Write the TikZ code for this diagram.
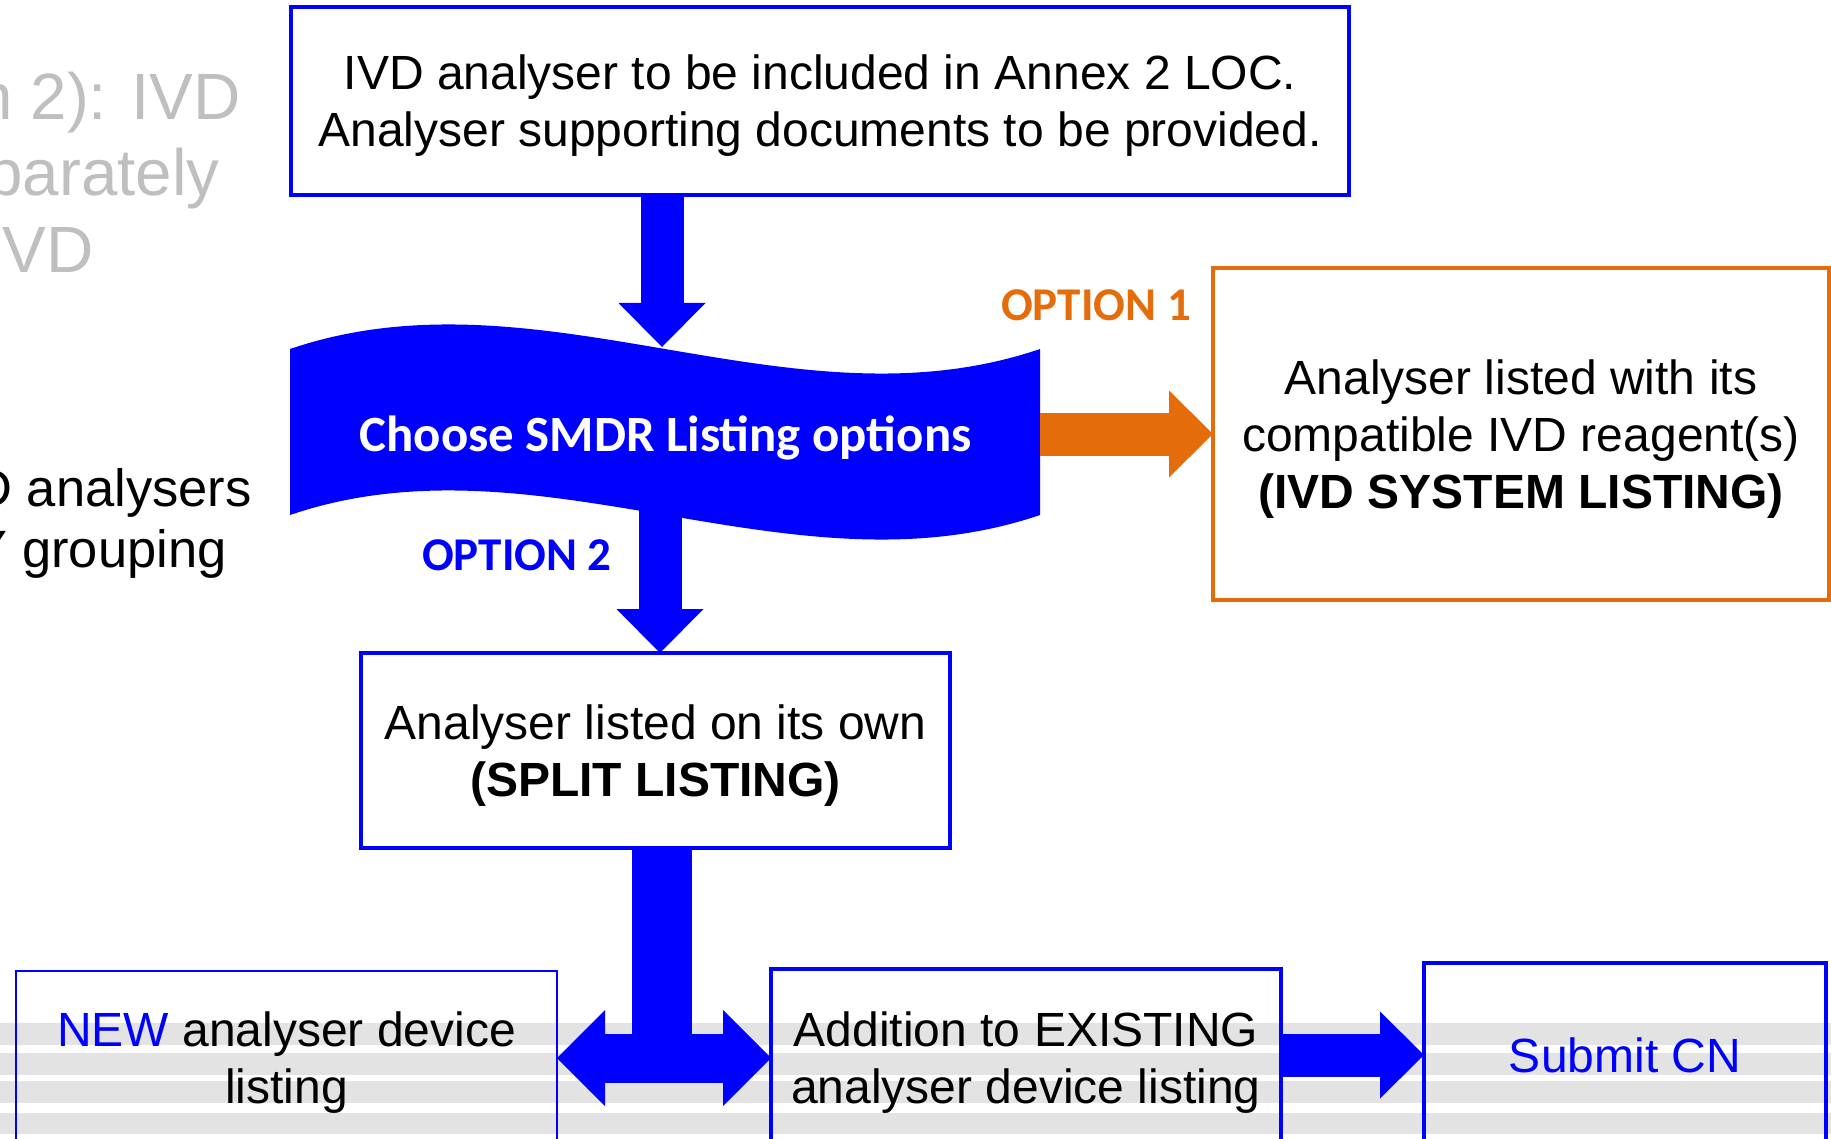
\documentclass[tikz,border=0pt]{standalone}
\usepackage{fontspec}
\setmainfont{Liberation Sans}
\newfontfamily\calibrifont{Carlito}
\usetikzlibrary{arrows.meta,calc}

\definecolor{pureblue}{RGB}{0,0,255}
\definecolor{optorange}{RGB}{228,108,10}
\definecolor{fadegrey}{RGB}{191,191,191}
\definecolor{stripegrey}{RGB}{227,227,227}

\newcommand\flowfont{\fontsize{24}{28.5}\selectfont}

\begin{document}
\begin{tikzpicture}[x=0.5pt,y=-0.5pt,
  flowbox/.style={draw=pureblue, line width=2pt, inner sep=0pt, outer sep=0pt,
                  align=center, font=\flowfont, text depth=-1pt},
  blockarrow/.style={color=pureblue, line width=21.5pt,
                     -{Triangle[length=22pt,width=43.5pt,line width=0pt]}},
  twowayarrow/.style={color=pureblue, line width=24.5pt,
                      {Triangle[length=24pt,width=48pt,line width=0pt]}-{Triangle[length=24pt,width=48pt,line width=0pt]}},
  optlabel/.style={font=\calibrifont\bfseries\fontsize{23.5}{28}\selectfont, inner sep=0pt},
  fragment/.style={anchor=base east, inner sep=0pt}
]
\useasboundingbox (0,0) rectangle (1831,1139);

% striped band along the lower edge
\foreach \ya/\yb in {1023/1045, 1053/1075, 1081/1103, 1113/1134}
  \fill[stripegrey] (0,\ya) rectangle (1831,\yb);

% partly hidden text on the left
\node[fragment, text=fadegrey, font=\fontsize{32.75}{38}\selectfont] (frag1) at (241,120) {n 2): IVD};
\node[fragment, text=fadegrey, font=\fontsize{32.75}{38}\selectfont] (frag2) at (220,196) {parately};
\node[fragment, text=fadegrey, font=\fontsize{32.75}{38}\selectfont] (frag3) at (94,272) {IVD};
\node[fragment, font=\fontsize{26.25}{30}\selectfont] (frag4) at (252,506) {D analysers};
\node[fragment, font=\fontsize{26.25}{30}\selectfont] (frag5) at (227,567) {Y grouping};

% decision banner
\fill[pureblue] (290,349) .. controls (540,264) and (790,434) .. (1040,349)
  -- (1040,515) .. controls (790,600) and (540,430) .. (290,515) -- cycle;
\node[anchor=base, text=white, inner sep=0pt,
      font=\calibrifont\bfseries\fontsize{25.4}{30}\selectfont] (choose) at (665.5,451)
  {Choose SMDR Listing options};
\coordinate (wavetop) at (662,347);
\coordinate (wavebot) at (660,505);
\coordinate (waveright) at (1040,434);
\coordinate (joint) at (662,1060);

% boxes
\node[flowbox, minimum width=529pt, minimum height=94pt] (annex) at (820,101)
  {IVD analyser to be included in Annex 2 LOC.\\Analyser supporting documents to be provided.};
\node[flowbox, draw=optorange, minimum width=308pt, minimum height=166pt] (system) at (1521,434)
  {Analyser listed with its\\compatible IVD reagent(s)\\\textbf{(IVD SYSTEM LISTING)}};
\node[flowbox, minimum width=294.5pt, minimum height=97.5pt] (split) at (655.5,750.5)
  {Analyser listed on its own\\\textbf{(SPLIT LISTING)}};
\node[flowbox, line width=1.4pt, minimum width=270.5pt, minimum height=87pt] (newdev) at (286.5,1058)
  {\textcolor{pureblue}{NEW} analyser device\\listing};
\node[flowbox, minimum width=255pt, minimum height=89pt] (existing) at (1026,1058)
  {Addition to EXISTING\\analyser device listing};
\node[flowbox, text=pureblue, minimum width=201pt, minimum height=92pt] (submit) at (1625,1055)
  {Submit CN};

% option labels
\node[optlabel, text=optorange] (opt1) at (1096,305) {OPTION 1};
\node[optlabel, text=pureblue] (opt2) at (517,555) {OPTION 2};

% connectors
\draw[blockarrow] (annex.south -| wavetop) -- (wavetop);
\draw[blockarrow, color=optorange] (waveright) -- (system.west);
\draw[blockarrow] (wavebot) -- (split.north -| wavebot);
\draw[pureblue, line width=30pt] (split.south -| joint) -- (joint);
\draw[twowayarrow] (newdev.east) -- (existing.west);
\draw[blockarrow] (existing.east |- submit.west) -- (submit.west);
\end{tikzpicture}
\end{document}
